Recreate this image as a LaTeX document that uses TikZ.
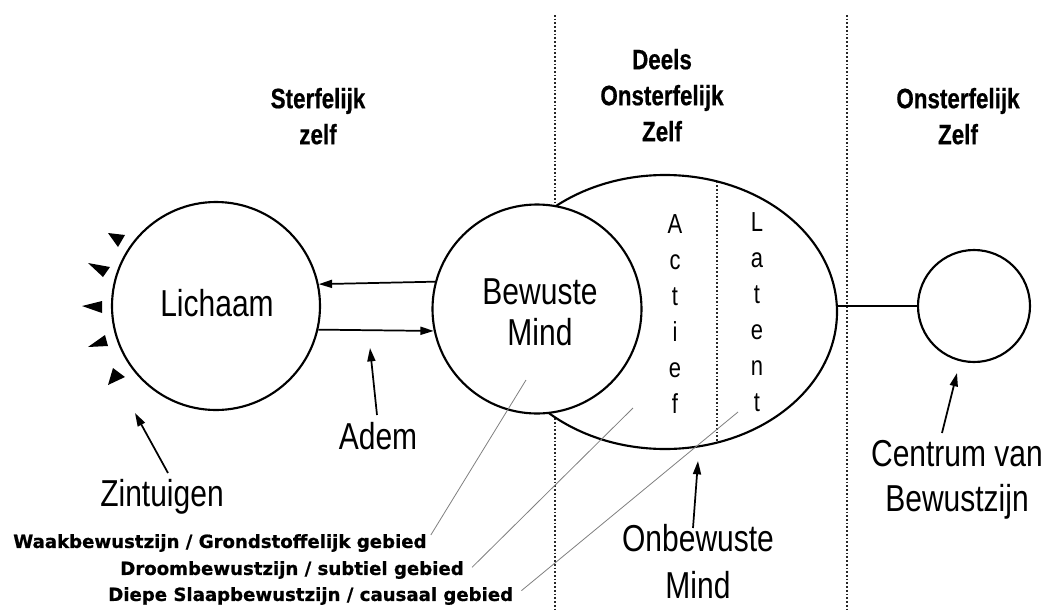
\documentclass[tikz,border=0pt]{standalone}
\usepackage{fontspec}
\usepackage{graphicx}
\setmainfont{Liberation Sans}[BoldFeatures={FakeBold=0.6}]
\newfontfamily\dvsans{DejaVu Sans}[BoldFeatures={FakeBold=0.8}]
\usetikzlibrary{shapes.geometric,arrows.meta,calc}
\newcommand\stretchy[1]{\scalebox{1}[1.25]{\begin{tabular}{@{}c@{}}#1\end{tabular}}}
\begin{document}
\begin{tikzpicture}[x=0.75pt,y=-0.75pt,
  ring/.style={circle, draw, line width=1.6pt, fill=white, inner sep=0pt},
  reg/.style={inner sep=0pt, font=\fontsize{22.5}{#1}\selectfont},
  reg/.default=25,
  head/.style={inner sep=0pt, font=\fontsize{16.8}{21.6}\selectfont\bfseries},
  vert/.style={inner sep=0pt, font=\fontsize{16.5}{21.6}\selectfont},
  foot/.style={inner sep=0pt, anchor=west, font=\fontsize{13.6}{16}\selectfont\dvsans\bfseries},
  divider/.style={line width=1.3pt, black!85, dash pattern=on 1.3pt off 1.5pt},
  arr/.style={line width=1.3pt, -{Triangle[length=10pt,width=6pt]}},
  leader/.style={line width=0.6pt, black!50}
]
\useasboundingbox (0,0) rectangle (1047,611);
\fill[white] (0,0) rectangle (1047,611);

% dotted dividers
\coordinate (d1t) at (555,15);
\coordinate (d1b) at (555,611);
\coordinate (d2t) at (847,15);
\coordinate (d2b) at (847,611);
\draw[divider] (d1t) -- (d1b);
\draw[divider] (d2t) -- (d2b);

% unconscious mind ellipse
\node[ellipse, draw, line width=1.6pt, fill=white, inner sep=0pt,
      minimum width=258pt, minimum height=205.5pt] (E) at (665,312) {};
\coordinate (it) at (717,181.5);
\coordinate (ib) at (717,442.5);
\draw[divider] (it) -- (ib);

% circles
\node[ring, minimum size=156pt] (L) at (216,306) {};
\node[ring, minimum size=156.75pt] (B) at (537,309) {};
\node[ring, minimum size=84pt] (C) at (974,306) {};

% link ellipse - centre
\draw[line width=1.3pt] (E.east |- C.west) -- (C.west);

% breath arrows
\draw[arr] (B.165.6) -- (L.12.8);
\draw[arr] (L.-13.9) -- (B.192.2);

% sense triangles
\fill (108,233) -- (125,235) -- (118,247) -- cycle;
\fill (88,263) -- (110,267) -- (103,277) -- cycle;
\fill (82,306) -- (102,301) -- (102,313) -- cycle;
\fill (88,347) -- (108,346) -- (105,335) -- cycle;
\fill (108,385) -- (113,368) -- (125,377) -- cycle;

% labels
\node[reg] (lich) at (217,308) {\stretchy{Lichaam}};
\node[reg=24.6] (bew) at (540,317) {\stretchy{Bewuste\\Mind}};
\node[reg] (adem) at (378,441) {\stretchy{Adem}};
\node[reg] (zint) at (162,498) {\stretchy{Zintuigen}};
\node[reg=28.2] (onb) at (698,566) {\stretchy{Onbewuste\\Mind}};
\node[reg=27] (cen) at (957,480) {\stretchy{Centrum van\\Bewustzijn}};
\node[vert] (act) at (675,316) {\stretchy{A\\c\\t\\i\\e\\f}};
\node[vert] (lat) at (757,314) {\stretchy{L\\a\\t\\e\\n\\t}};

\node[head] (h1) at (318,119) {\stretchy{Sterfelijk\\zelf}};
\node[head] (h2) at (662,98) {\stretchy{Deels\\Onsterfelijk\\Zelf}};
\node[head] (h3) at (958,119) {\stretchy{Onsterfelijk\\Zelf}};

\node[foot] (waak) at (13,543) {Waakbewustzijn / Grondstoffelijk gebied};
\node[foot] (droom) at (120,570) {Droombewustzijn / subtiel gebied};
\node[foot] (diepe) at (108,596) {Diepe Slaapbewustzijn / causaal gebied};

% pointer arrows
\coordinate (ademT) at (377,415);
\coordinate (ademH) at (370,348);
\coordinate (zintT) at (168,473);
\coordinate (zintH) at (135,413);
\coordinate (onbT) at (693,528);
\coordinate (onbH) at (698,461);
\coordinate (cenT) at (942,433);
\coordinate (cenH) at (957,373);
\draw[arr] (ademT) -- (ademH);
\draw[arr] (zintT) -- (zintH);
\draw[arr] (onbT) -- (onbH);
\draw[arr] (cenT) -- (cenH);

% leader lines
\coordinate (w2) at (526,380);
\coordinate (dr2) at (633,408);
\coordinate (dp2) at (738,412);
\draw[leader] ([xshift=3pt,yshift=6pt]waak.east) -- (w2);
\draw[leader] ([xshift=6pt,yshift=2pt]droom.east) -- (dr2);
\draw[leader] ([xshift=6pt,yshift=4pt]diepe.east) -- (dp2);
\end{tikzpicture}
\end{document}
